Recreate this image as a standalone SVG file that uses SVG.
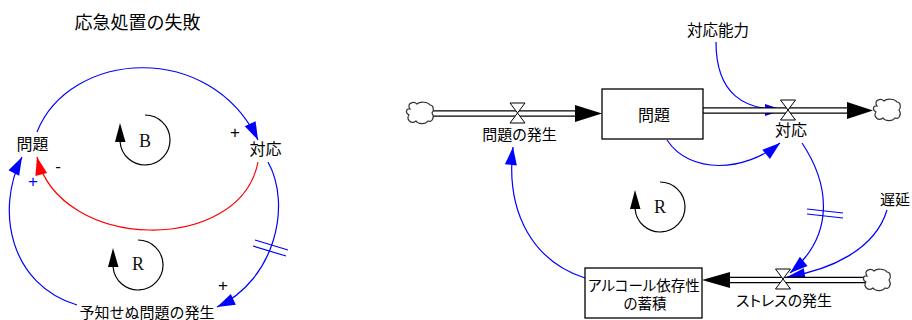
<svg xmlns="http://www.w3.org/2000/svg" width="912" height="320" viewBox="0 0 912 320">
<style>
.t{font-family:"Noto Sans CJK JP","Noto Sans",sans-serif;font-size:16px;fill:#000;text-anchor:middle}
.p{font-feature-settings:"palt"}
.s{font-family:"Liberation Sans",sans-serif;font-size:17px;text-anchor:middle}
.L{font-family:"Liberation Serif",serif;font-size:18px;fill:#111;text-anchor:middle}
.b{fill:none;stroke:#0000ff;stroke-width:1.2}
.r{fill:none;stroke:#ff0000;stroke-width:1.2}
.lp{fill:none;stroke:#000;stroke-width:1.2}
.pipeO{fill:none;stroke:#000;stroke-width:6.5}
.pipeI{fill:none;stroke:#fff;stroke-width:4}
.valve{fill:#fff;stroke:#000;stroke-width:1}
.stock{fill:#fff;stroke:#000;stroke-width:1.3}
.cloud{fill:#fff;stroke:#333;stroke-width:1.2}
.hash{stroke:#0000ff;stroke-width:1.2}
</style>
<defs>
<marker id="ab" markerUnits="userSpaceOnUse" markerWidth="18" markerHeight="12" refX="18" refY="6" orient="auto" overflow="visible"><path d="M0,0 L18,6 L0,12 z" fill="#0000ff"/></marker>
<marker id="ar" markerUnits="userSpaceOnUse" markerWidth="18" markerHeight="12" refX="18" refY="6" orient="auto" overflow="visible"><path d="M0,0 L18,6 L0,12 z" fill="#ff0000"/></marker>
<g id="loop"><path class="lp" d="M0,-25 A25,25 0 1 1 -24.9,2"/><path d="M-30,2 L-19.5,2 L-25,-17 z" fill="#000"/></g>
<path id="cl" class="cloud" d="M-10,-4 C-14,-10 -6,-12 -3,-9 C0,-12 8,-11 10,-8 C14,-8 14,-2 12,0 C15,4 12,10 8,8 C5,12 -2,11 -4,8 C-9,12 -14,6 -11,2 C-15,0 -14,-5 -10,-4 Z"/>
<path id="vl" class="valve" d="M-7.5,-10 L7.5,-10 L-7.5,10 L7.5,10 Z"/>
</defs>

<text class="t" x="137.5" y="29" style="font-size:18px">応急処置の失敗</text>

<g id="connectors">
<path class="b" d="M37,132 C70,50 210,40 258,140" marker-end="url(#ab)"/>
<path class="r" d="M258,162 C240,255 60,252 37,157" marker-end="url(#ar)"/>
<path class="b" d="M268,162 C292,205 275,280 217,307" marker-end="url(#ab)"/>
<path class="b" d="M77,305 C10,285 -5,210 22,157" marker-end="url(#ab)"/>
<line class="hash" x1="255" y1="240" x2="288" y2="250"/>
<line class="hash" x1="253" y1="246" x2="286" y2="256"/>

<path class="b" d="M716,42 C716,95 745,110 783,110" marker-end="url(#ab)"/>
<path class="b" d="M667,140 C690,175 745,172 780,143" marker-end="url(#ab)"/>
<path class="b" d="M802,143 C830,185 835,235 790,273" marker-end="url(#ab)"/>
<path class="b" d="M887,210 C875,250 830,270 787,277" marker-end="url(#ab)"/>
<path class="b" d="M585,278 C535,262 505,215 513,147" marker-end="url(#ab)"/>
<line class="hash" x1="807" y1="209" x2="843" y2="213"/>
<line class="hash" x1="807" y1="214" x2="843" y2="218"/>
</g>

<g id="signs">
<text class="s" x="235" y="138">+</text>
<text class="s" x="58" y="172">-</text>
<text class="s" x="33" y="187" fill="#0000ff">+</text>
<text class="s" x="223" y="291">+</text>
</g>

<g id="node-mondai-l"><text class="t" x="32.5" y="150">問題</text></g>
<g id="node-taiou-l"><text class="t" x="265.5" y="155">対応</text></g>
<g id="node-yochi"><text class="t" x="147" y="318" style="font-size:15px">予知せぬ問題の発生</text></g>
<g id="loop-B"><use href="#loop" x="145" y="140"/><text class="L" x="145" y="147">B</text></g>
<g id="loop-R1"><use href="#loop" x="138" y="265"/><text class="L" x="138" y="270">R</text></g>
<g id="loop-R2"><use href="#loop" x="660" y="207"/><text class="L" x="660" y="213">R</text></g>

<g id="flow-hassei">
<line class="pipeO" x1="433" y1="113.5" x2="578" y2="113.5"/>
<line class="pipeI" x1="430" y1="113.5" x2="578" y2="113.5"/>
<polygon points="575,105 602,113.5 575,122" fill="#000"/>
<use href="#cl" x="420" y="113"/>
<use href="#vl" x="517.5" y="113"/>
<text class="t p" x="519.5" y="140" style="font-size:15px">問題の発生</text>
</g>

<g id="stock-mondai">
<rect class="stock" x="602" y="89" width="101" height="50"/>
<text class="t" x="654" y="121">問題</text>
</g>

<g id="flow-taiou">
<line class="pipeO" x1="703" y1="110.5" x2="850" y2="110.5"/>
<line class="pipeI" x1="703.7" y1="110.5" x2="850" y2="110.5"/>
<polygon points="847,102 873,110.5 847,119" fill="#000"/>
<use href="#cl" x="887" y="110"/>
<use href="#vl" x="788" y="110"/>
<text class="t" x="791" y="136">対応</text>
</g>

<g id="node-nouryoku"><text class="t" x="718" y="36" style="font-size:15.5px">対応能力</text></g>
<g id="node-chien"><text class="t" x="880" y="205" style="text-anchor:start;font-size:15px">遅延</text></g>

<g id="flow-stress">
<line class="pipeO" x1="728" y1="280" x2="866" y2="280"/>
<line class="pipeI" x1="728" y1="280" x2="868" y2="280"/>
<polygon points="730,272 702,280 730,288" fill="#000"/>
<use href="#cl" x="877" y="280"/>
<use href="#vl" x="783" y="279"/>
<text class="t p" x="784" y="306" style="font-size:15px">ストレスの発生</text>
</g>

<g id="stock-alcohol">
<rect class="stock" x="585" y="268" width="117" height="50"/>
<text class="t p" style="font-size:14.5px"><tspan x="644" y="291">アルコール依存性</tspan><tspan x="645" y="309">の蓄積</tspan></text>
</g>
</svg>
